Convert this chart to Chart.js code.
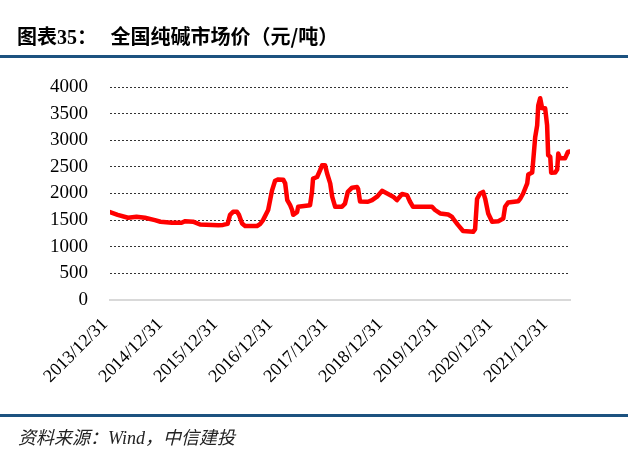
<!DOCTYPE html>
<html>
<head>
<meta charset="utf-8">
<script src="https://cdn.jsdelivr.net/npm/chart.js@4/dist/chart.umd.min.js"></script>
<style>
  html, body { margin: 0; padding: 0; background: #fff; }
  #wrap { position: relative; width: 640px; height: 463px; overflow: hidden; }
  #myChart { position: absolute; left: 0; top: 0; }
  .title { position: absolute; left: 17px; top: 21px; font: bold 20px "Liberation Serif", "Noto Sans CJK SC", serif; color: #000; white-space: nowrap; }
  .title .cn { font-family: "Noto Sans CJK SC", sans-serif; }
  .rule { position: absolute; left: 0; width: 628px; height: 3px; background: #1c5280; }
  .source { position: absolute; left: 18px; top: 423px; font: italic 18px "Liberation Serif", "Noto Sans CJK SC", serif; color: #222; white-space: nowrap; }
</style>
</head>
<body>
<div id="wrap">
  <canvas id="myChart" width="640" height="463"></canvas>
  <div class="title"><span class="cn">图表</span>35<span class="cn">：&nbsp;&nbsp;&nbsp;全国纯碱市场价（元/吨）</span></div>
  <div class="rule" style="top:55px"></div>
  <div class="rule" style="top:414px"></div>
  <div class="source">资料来源：Wind，中信建投</div>
</div>
<script>
// 全国纯碱市场价（元/吨）
const dates = [
  '2013-12-31', '2014-02-20', '2014-04-30', '2014-06-25', '2014-08-20', '2014-10-25', '2014-12-01',
  '2015-02-15', '2015-04-20', '2015-05-15', '2015-07-05', '2015-08-20', '2015-12-20',
  '2016-01-20', '2016-02-20', '2016-03-07', '2016-03-27', '2016-04-22', '2016-05-05', '2016-05-26',
  '2016-06-15', '2016-09-02', '2016-09-22', '2016-10-12', '2016-11-15', '2016-12-11', '2016-12-31',
  '2017-01-21', '2017-02-23', '2017-03-08', '2017-03-22', '2017-04-10', '2017-04-23', '2017-04-30',
  '2017-05-26', '2017-06-02', '2017-08-20', '2017-09-02', '2017-09-09', '2017-10-06', '2017-10-26',
  '2017-11-08', '2017-11-28', '2017-12-11',
  '2018-01-01', '2018-01-14', '2018-02-03', '2018-03-20', '2018-04-09', '2018-04-28', '2018-05-26',
  '2018-06-28', '2018-07-05', '2018-07-18', '2018-09-09', '2018-10-06', '2018-11-08', '2018-12-11',
  '2019-01-14', '2019-02-23', '2019-03-20', '2019-04-23', '2019-05-26', '2019-06-15', '2019-07-05',
  '2019-11-08', '2019-11-28',
  '2020-01-01', '2020-02-23', '2020-03-20', '2020-04-09', '2020-04-28', '2020-06-01', '2020-08-07',
  '2020-08-20', '2020-09-02', '2020-09-22', '2020-10-12', '2020-10-26', '2020-11-15', '2020-12-11',
  '2021-01-21', '2021-02-23', '2021-03-07', '2021-03-27', '2021-06-02', '2021-06-15', '2021-07-05',
  '2021-08-01', '2021-08-08', '2021-09-03', '2021-09-09', '2021-09-23', '2021-10-06', '2021-10-13',
  '2021-10-26', '2021-11-08', '2021-11-28', '2021-12-11', '2021-12-18',
  '2022-01-01', '2022-01-07', '2022-02-03', '2022-02-16', '2022-02-23', '2022-03-07', '2022-04-09',
  '2022-04-28', '2022-05-12'
];
const prices = [
  1650, 1600, 1545, 1565, 1545, 1500, 1470,
  1450, 1450, 1480, 1470, 1420, 1405,
  1410, 1430, 1600, 1656, 1656, 1600, 1437,
  1390, 1390, 1425, 1500, 1690, 2060, 2240,
  2265, 2260, 2190, 1875, 1780, 1690, 1600,
  1650, 1750, 1780, 2030, 2280, 2310, 2440,
  2530, 2530, 2380,
  2190, 1940, 1750, 1750, 1810, 2030, 2110,
  2120, 2090, 1850, 1845, 1875, 1940, 2050,
  2000, 1940, 1875, 1990, 1970, 1845, 1750,
  1750, 1690,
  1625, 1605, 1560, 1480, 1410, 1295, 1280,
  1330, 1900, 2000, 2030, 1900, 1625, 1470,
  1480, 1530, 1750, 1830, 1855, 1900, 2000,
  2190, 2355, 2395, 2590, 3060, 3280, 3650,
  3790, 3600, 3600, 3280, 2720,
  2690, 2390, 2395, 2450, 2750, 2660, 2660,
  2780, 2790
];
// x轴刻度：每年 12/31
const tickYears = [2013, 2014, 2015, 2016, 2017, 2018, 2019, 2020, 2021];
const yTicks = [0, 500, 1000, 1500, 2000, 2500, 3000, 3500, 4000];

const startDate = new Date('2013-12-31T00:00:00Z');
const YEAR_MS = 365.25 * 24 * 3600 * 1000;
function toYears(d) {
  return (new Date(d + 'T00:00:00Z') - startDate) / YEAR_MS;
}

const points = dates.map((d, i) => ({ x: toYears(d), y: prices[i] }));

const ctx = document.getElementById('myChart').getContext('2d');
const myChart = new Chart(ctx, {
  type: 'line',
  data: {
    datasets: [{
      label: '纯碱市场价',
      data: points,
      borderColor: '#ff0000',
      borderWidth: 4.5,
      pointRadius: 0,
      tension: 0,
      fill: false,
      borderJoinStyle: 'round',
      borderCapStyle: 'round'
    }]
  },
  options: {
    responsive: false,
    animation: false,
    layout: { padding: { left: 0, right: 70, top: 87, bottom: 0 } },
    plugins: {
      legend: { display: false },
      tooltip: { enabled: false }
    },
    scales: {
      x: {
        type: 'linear',
        min: 0,
        max: toYears(dates[dates.length - 1]),
        afterBuildTicks: (scale) => {
          scale.ticks = tickYears.map((y, i) => ({ value: i }));
        },
        afterFit: (scale) => { scale.height = 163; },
        ticks: {
          autoSkip: false,
          maxRotation: 45,
          minRotation: 45,
          padding: 6,
          labelOffset: -5,
          color: '#000',
          font: { family: 'Liberation Serif', size: 18 },
          callback: (v) => tickYears[v] + '/12/31'
        },
        grid: { display: false },
        border: { display: true, color: '#d9d9d9', width: 2 }
      },
      y: {
        min: 0,
        max: 4000,
        afterBuildTicks: (scale) => {
          scale.ticks = yTicks.map(v => ({ value: v }));
        },
        afterFit: (scale) => { scale.width = 110; },
        ticks: {
          padding: 22,
          color: '#000',
          font: { family: 'Liberation Serif', size: 19 },
          callback: (v) => String(v)
        },
        grid: {
          drawTicks: false,
          color: (c) => c.tick && c.tick.value === 0 ? 'rgba(0,0,0,0)' : '#333',
          lineWidth: 1
        },
        border: { display: false, dash: [2, 2] }
      }
    }
  }
});
</script>
</body>
</html>
